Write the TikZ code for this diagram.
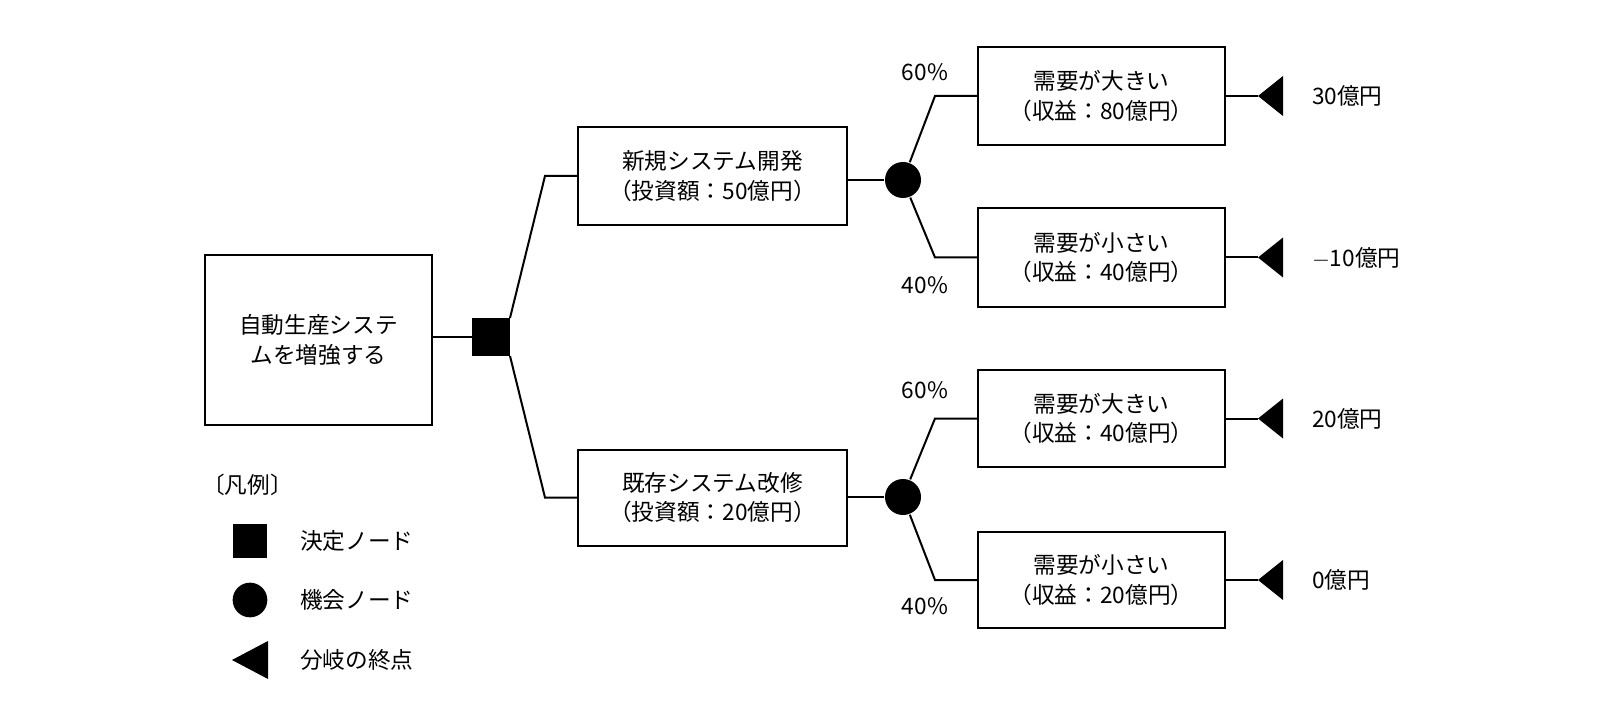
\documentclass[tikz,border=0pt]{standalone}
\usepackage{fontspec}
\setmainfont{Noto Sans CJK JP}
\tikzset{every picture/.style={line width=1.5pt}}
\tikzset{
  box/.style={draw,line width=1.5pt,inner sep=0pt,align=center,font=\fontsize{17}{22}\selectfont},
  txt/.style={inner sep=0.75pt,font=\fontsize{17}{22}\selectfont},
}
\begin{document}
\begin{tikzpicture}[x=0.75pt,y=0.75pt,yscale=-1,xscale=1]
\useasboundingbox (0,0) rectangle (1600,720);

% Root box
\node [box,minimum width=170.25pt,minimum height=127.5pt] (root) at (318.5,340) {自動生産システ\\ムを増強する};
% Decision node
\node [draw,fill=black,minimum size=27pt,inner sep=0pt] (dec) at (491,337) {};
% Alternatives
\node [box,minimum width=201.75pt,minimum height=73.5pt] (new) at (712.5,176) {新規システム開発\\（投資額：50億円）};
\node [box,minimum width=201.75pt,minimum height=72pt] (old) at (712.5,497.5) {既存システム改修\\（投資額：20億円）};
% Chance nodes
\node [circle,fill=black,minimum size=27pt,inner sep=0pt] (c1) at (903,180) {};
\node [circle,fill=black,minimum size=27pt,inner sep=0pt] (c2) at (903,497) {};
% Outcomes
\node [box,minimum width=185.25pt,minimum height=73.5pt] (o1) at (1101.5,96) {需要が大きい\\（収益：80億円）};
\node [box,minimum width=185.25pt,minimum height=74.25pt] (o2) at (1101.5,257.5) {需要が小さい\\（収益：40億円）};
\node [box,minimum width=185.25pt,minimum height=72.75pt] (o3) at (1101.5,418.5) {需要が大きい\\（収益：40億円）};
\node [box,minimum width=185.25pt,minimum height=72pt] (o4) at (1101.5,580) {需要が小さい\\（収益：20億円）};

% Connectors
\draw (root.east |- dec) -- (dec.west);
\draw (dec.north east) -- (545,176) -- (new.west);
\draw (dec.south east) -- (545,497.5) -- (old.west);
\draw (new.east |- c1) -- (c1);
\draw (old.east |- c2) -- (c2);
\draw (c1) -- (935,96) -- (o1.west);
\draw (c1) -- (935,257.5) -- (o2.west);
\draw (c2) -- (935,418.5) -- (o3.west);
\draw (c2) -- (935,580) -- (o4.west);

% End nodes
\foreach \o/\y/\v in {o1/96/30億円, o2/257.5/$-$10億円, o3/418.5/20億円, o4/580/0億円} {
  \coordinate (t\o) at (1258,\y);
  \draw (\o.east) -- (t\o);
  \fill (t\o) -- (1283,\y-20) -- (1283,\y+20) -- cycle;
  \node [txt,anchor=west] at (1310,\y) {\v};
}

% Probabilities
\node [txt] (p1) at (925,72) {60\%};
\node [txt] (p2) at (925,285) {40\%};
\node [txt] (p3) at (925,390) {60\%};
\node [txt] (p4) at (925,606) {40\%};

% Legend
\node [txt,anchor=west] (leg) at (200,485) {〔凡例〕};
\node [fill=black,minimum size=26pt,inner sep=0pt] (lsq) at (250,541) {};
\node [txt,anchor=west] at (298,541) {決定ノード};
\node [circle,fill=black,minimum size=26pt,inner sep=0pt] (lci) at (250,600) {};
\node [txt,anchor=west] at (298,600) {機会ノード};
\fill (232,660) -- (268,641) -- (268,679) -- cycle;
\node [txt,anchor=west] at (298,660) {分岐の終点};
\end{tikzpicture}
\end{document}
